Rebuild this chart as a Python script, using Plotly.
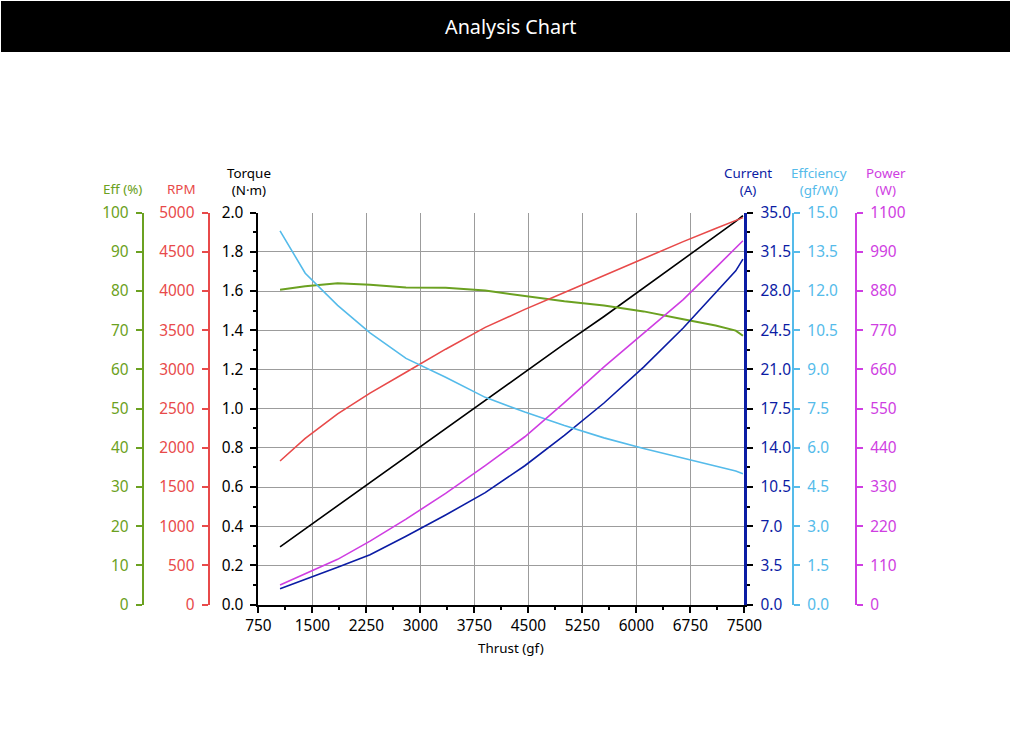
import plotly.graph_objects as go

# motor test readings
thrust = [1050, 1400, 1850, 2300, 2800, 3350, 3900, 4450, 5000, 5550, 6100, 6650, 7100, 7380, 7480]
torque = [0.295, 0.387, 0.505, 0.623, 0.752, 0.895, 1.04, 1.185, 1.33, 1.47, 1.615, 1.76, 1.88, 1.955, 1.985]
rpm = [1832, 2119, 2433, 2698, 2964, 3258, 3536, 3766, 3982, 4199, 4416, 4630, 4797, 4900, 4936]
eff_pct = [80.3, 81.2, 82.0, 81.6, 80.9, 80.8, 80.1, 78.8, 77.4, 76.3, 74.8, 72.8, 71.2, 69.9, 68.6]
current = [1.42, 2.23, 3.33, 4.45, 6.1, 8.0, 10.0, 12.4, 15.1, 18.0, 21.2, 24.7, 27.8, 29.8, 30.84]
efficiency = [14.3, 12.68, 11.45, 10.4, 9.42, 8.7, 7.93, 7.37, 6.85, 6.38, 5.97, 5.6, 5.3, 5.11, 5.01]
power = [55, 86, 127, 178, 240, 312, 390, 471, 567, 667, 761, 856, 945, 1000, 1021]

FONT = "Noto Sans"

GREEN = '#6ba121'
RED = '#e84a4a'
BLACK = '#000000'
NAVY = '#0b1ca4'
SKY = '#55bbea'
MAGENTA = '#cf3ee2'
GRID = '#9c9c9c'

# the photographed page comes out slightly shrunk, so target positions
# (picture pixels) are mapped back to page pixels
SCALE = 0.9723
W, H = 1040, 772

# plot box in picture pixels
PX0, PX1 = 258, 745
PY0, PY1 = 211.5, 603.3


def fx(px):
    return px / SCALE / W


def fy(py):
    return 1 - py / SCALE / H


TICK_FONT = 15.4
LABEL_FONT = 13.4


def side_axis(color, rng, dtick, pos, side, fmt=None):
    ax = dict(range=rng, dtick=dtick, tick0=0, overlaying='y', anchor='free',
              position=pos, side=side, showgrid=False, zeroline=False,
              showline=True, linecolor=color, linewidth=2,
              ticks='outside', ticklen=6, tickwidth=2, tickcolor=color,
              ticklabelstandoff=4,
              tickfont=dict(family=FONT, size=TICK_FONT, color=color))
    if fmt:
        ax['tickformat'] = fmt
    return ax


traces = [
    go.Scatter(x=thrust, y=eff_pct, yaxis='y2', mode='lines', name='Eff (%)',
               line=dict(color=GREEN, width=2)),
    go.Scatter(x=thrust, y=rpm, yaxis='y3', mode='lines', name='RPM',
               line=dict(color=RED, width=1.6)),
    go.Scatter(x=thrust, y=torque, yaxis='y', mode='lines', name='Torque',
               line=dict(color=BLACK, width=1.6)),
    go.Scatter(x=thrust, y=current, yaxis='y4', mode='lines', name='Current',
               line=dict(color=NAVY, width=1.6)),
    go.Scatter(x=thrust, y=efficiency, yaxis='y5', mode='lines', name='Effciency',
               line=dict(color=SKY, width=1.6)),
    go.Scatter(x=thrust, y=power, yaxis='y6', mode='lines', name='Power',
               line=dict(color=MAGENTA, width=1.6)),
]

layout = go.Layout(
    width=W, height=H,
    margin=dict(l=0, r=0, t=0, b=0),
    paper_bgcolor='white', plot_bgcolor='white',
    showlegend=False,
    font=dict(family=FONT),
    xaxis=dict(domain=[fx(PX0), fx(PX1)], anchor='y', range=[750, 7500],
               tick0=750, dtick=750, showgrid=True, gridcolor=GRID, gridwidth=1,
               zeroline=False, showline=True, linecolor=BLACK, linewidth=2,
               ticks='outside', ticklen=6, tickwidth=2, tickcolor=BLACK,
               minor=dict(dtick=375, ticks='outside', ticklen=3, tickwidth=2, tickcolor=BLACK),
               tickfont=dict(family=FONT, size=TICK_FONT, color=BLACK)),
    xaxis2=dict(overlaying='x', anchor='y', side='bottom', range=[750, 7500],
                tick0=750, dtick=750, showgrid=False, zeroline=False, showline=False,
                showticklabels=False, ticks='inside', ticklen=6, tickwidth=2, tickcolor=BLACK,
                minor=dict(dtick=375, ticks='inside', ticklen=3, tickwidth=2, tickcolor=BLACK)),
    yaxis=dict(domain=[fy(PY1), fy(PY0)], anchor='x', side='left', range=[0, 2],
               tick0=0, dtick=0.2, tickformat='.1f', showgrid=True, gridcolor=GRID,
               gridwidth=1, zeroline=False, showline=True, linecolor=BLACK, linewidth=2,
               ticks='outside', ticklen=6, tickwidth=2, tickcolor=BLACK,
               ticklabelstandoff=4,
               minor=dict(dtick=0.1, ticks='outside', ticklen=3, tickwidth=2, tickcolor=BLACK),
               tickfont=dict(family=FONT, size=TICK_FONT, color=BLACK)),
    yaxis2=side_axis(GREEN, [0, 100], 10, fx(142), 'left'),
    yaxis3=side_axis(RED, [0, 5000], 500, fx(208), 'left'),
    yaxis4=dict(overlaying='y', anchor='x', side='right', range=[0, 35], tick0=0,
                dtick=3.5, tickformat='.1f', showgrid=False, zeroline=False,
                showline=True, linecolor=NAVY, linewidth=3,
                ticks='outside', ticklen=6, tickwidth=2, tickcolor=BLACK,
                ticklabelstandoff=4,
                minor=dict(dtick=1.75, ticks='outside', ticklen=3, tickwidth=2, tickcolor=BLACK),
                tickfont=dict(family=FONT, size=TICK_FONT, color=NAVY)),
    yaxis5=side_axis(SKY, [0, 15], 1.5, fx(794), 'right', '.1f'),
    yaxis6=side_axis(MAGENTA, [0, 1100], 110, fx(857), 'right'),
    yaxis7=dict(overlaying='y', anchor='x', side='right', range=[0, 35], tick0=0,
                dtick=3.5, showgrid=False, zeroline=False, showline=False,
                showticklabels=False, ticks='inside', ticklen=6, tickwidth=2, tickcolor=BLACK,
                minor=dict(dtick=1.75, ticks='inside', ticklen=3, tickwidth=2, tickcolor=BLACK)),
    shapes=[dict(type='rect', xref='paper', yref='paper', x0=0, x1=1,
                 y0=fy(51), y1=1, fillcolor='black', line=dict(width=0), layer='below')],
)

fig = go.Figure(data=traces, layout=layout)

# header and axis captions (picture pixel centres)
labels = [
    ('Analysis Chart', 511, 25, 'white', 19.8),
    ('Eff (%)', 122, 188, GREEN, LABEL_FONT),
    ('RPM', 181, 188, RED, LABEL_FONT),
    ('Torque<br>(N·m)', 249, 180, BLACK, LABEL_FONT),
    ('Current<br>(A)', 749, 180, NAVY, LABEL_FONT),
    ('Effciency<br>(gf/W)', 820, 180, SKY, LABEL_FONT),
    ('Power<br>(W)', 887, 180, MAGENTA, LABEL_FONT),
    ('Thrust (gf)', 511, 647, BLACK, LABEL_FONT),
]
for text, px, py, color, size in labels:
    fig.add_annotation(text=text, xref='paper', yref='paper', x=fx(px), y=fy(py),
                       xanchor='center', yanchor='middle', showarrow=False,
                       font=dict(family=FONT, size=size, color=color))

fig.write_html("out.html", config={'displayModeBar': False},
               post_script="document.body.style.margin='-10.3px 0 0 -12.3px';"
                           "document.body.style.overflow='hidden';")
